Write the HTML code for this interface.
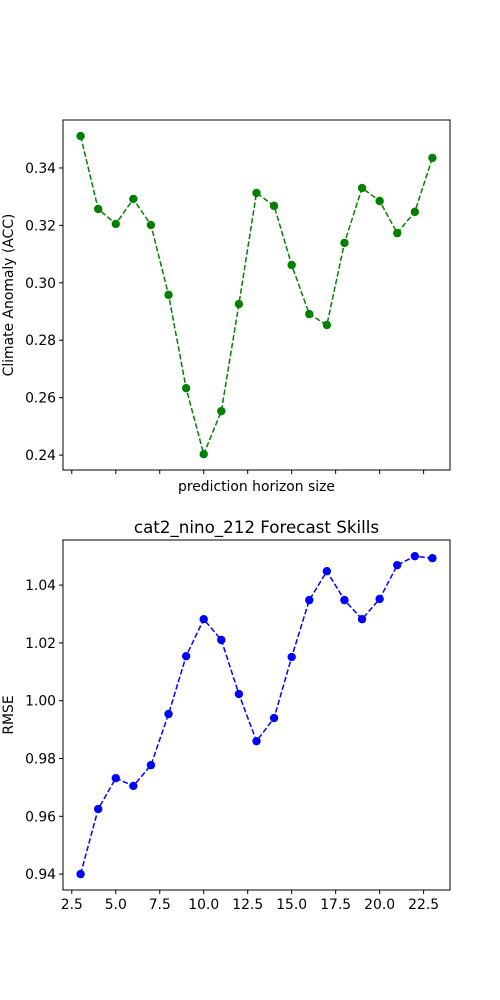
<!DOCTYPE html>
<html><head><meta charset="utf-8"><style>
body{margin:0;background:#fff}
svg{display:block;font-family:"DejaVu Sans","Liberation Sans",sans-serif}
</style></head><body>
<svg id="chart" width="500" height="1000" xmlns="http://www.w3.org/2000/svg"></svg>
<script>
const horizons = [3,4,5,6,7,8,9,10,11,12,13,14,15,16,17,18,19,20,21,22,23];
const accValues = [0.3511,0.3257,0.3205,0.3292,0.3201,0.2958,0.2633,0.2403,0.2553,0.2926,0.3313,0.3268,0.3062,0.2891,0.2853,0.3139,0.3330,0.3285,0.3173,0.3247,0.3435];
const rmseValues = [0.940,0.9625,0.9732,0.9705,0.9777,0.9954,1.0154,1.0282,1.0210,1.0023,0.9860,0.9940,1.0151,1.0348,1.0448,1.0348,1.0282,1.0352,1.0469,1.0500,1.0493];
const xTicks = [2.5,5.0,7.5,10.0,12.5,15.0,17.5,20.0,22.5];
const accTicks = [0.24,0.26,0.28,0.30,0.32,0.34];
const rmseTicks = [0.94,0.96,0.98,1.00,1.02,1.04];

const svg = document.getElementById('chart');
const NS = 'http://www.w3.org/2000/svg';
function mk(tag, attrs, parent){const e=document.createElementNS(NS,tag);for(const k in attrs)e.setAttribute(k,attrs[k]);(parent||svg).appendChild(e);return e;}

const L=63,R=450,xMin=2,xMax=24;
const xs=v=>L+(v-xMin)/(xMax-xMin)*(R-L);

function panel(name, top, bottom, yMin, yMax, vals, ticks, color, showXLabels, yLabel){
  const ys=v=>bottom-(v-yMin)/(yMax-yMin)*(bottom-top);
  const g=mk('g',{});
  
  
  const frame=mk('rect',{x:L,y:top,width:R-L,height:bottom-top,fill:'none',stroke:'#000','stroke-width':1},g);
  
  
  ticks.forEach(t=>{
    const y=ys(t);
    mk('line',{x1:L-4,x2:L,y1:y,y2:y,stroke:'#000'},g);
    const tx=mk('text',{x:L-7,y:y+5,'text-anchor':'end','font-size':13.9},g);
    tx.textContent=t.toFixed(2);
    
    
  });
  xTicks.forEach(t=>{
    const x=xs(t);
    mk('line',{x1:x,x2:x,y1:bottom,y2:bottom+4,stroke:'#000'},g);
    if(showXLabels){
      const tx=mk('text',{x:x,y:bottom+19,'text-anchor':'middle','font-size':13.9},g);
      tx.textContent=t.toFixed(1);
      
      
    }
  });
  const yl=mk('text',{x:0,y:0,'text-anchor':'middle','font-size':13.9,transform:`translate(13,${(top+bottom)/2}) rotate(-90)`},g);
  yl.textContent=yLabel;
  
  
  const pts=horizons.map((h,i)=>xs(h)+','+ys(vals[i])).join(' ');
  const line=mk('polyline',{points:pts,fill:'none',stroke:color,'stroke-width':1.5,'stroke-dasharray':'5.5,2.4'},g);
  
  
  horizons.forEach((h,i)=>{
    const c=mk('circle',{cx:xs(h),cy:ys(vals[i]),r:4.2,fill:color},g);
    
    
  });
}
panel('acc',120,470,0.2348,0.3567,accValues,accTicks,'#008000',false,'Climate Anomaly (ACC)');
panel('rmse',540,890,0.9345,1.0556,rmseValues,rmseTicks,'#0000ff',true,'RMSE');

const xl=mk('text',{x:(L+R)/2,y:491,'text-anchor':'middle','font-size':13.9});
xl.textContent='prediction horizon size';


const ti=mk('text',{x:(L+R)/2,y:533,'text-anchor':'middle','font-size':16.7});
ti.textContent='cat2_nino_212 Forecast Skills';


</script>
</body></html>
